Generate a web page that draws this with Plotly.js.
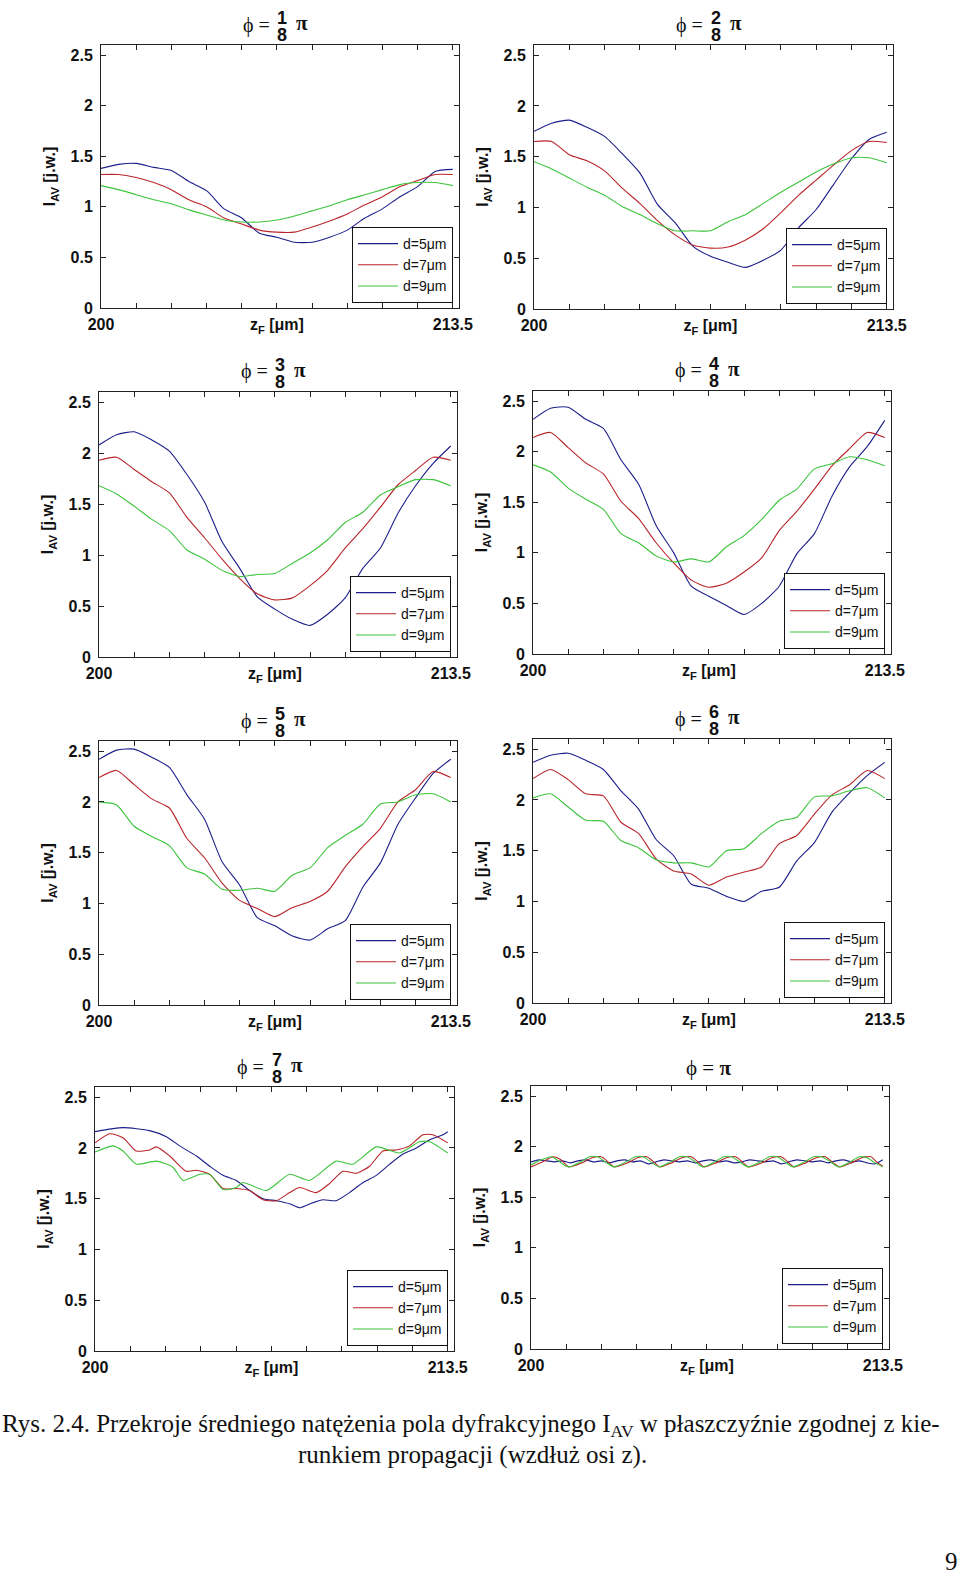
<!DOCTYPE html>
<html>
<head>
<meta charset="utf-8">
<script src="https://cdn.plot.ly/plotly-3.0.1.min.js"></script>
<style>
  html, body { margin: 0; padding: 0; background: #ffffff; }
  #chart { width: 960px; height: 1574px; }
</style>
</head>
<body>
<div id="chart"></div>
<script>
// ---------------- DATA ----------------
const seriesNames = ['d=5\u03bcm', 'd=7\u03bcm', 'd=9\u03bcm'];
const phaseNumerators = ['1', '2', '3', '4', '5', '6', '7', null];
const phaseDenominator = '8';
const xTickVals = [200, 206.75, 213.5];
const xTickText = ['<b>200</b>', '<b>z<sub>F</sub> [\u03bcm]</b>', '<b>213.5</b>'];
const xMinorVals = [201.35, 202.7, 204.05, 205.4, 208.1, 209.45, 210.8, 212.15];
const yTickVals = [0, 0.5, 1, 1.5, 2, 2.5];
const yTickText = ['<b>0</b>', '<b>0.5</b>', '<b>1</b>', '<b>1.5</b>', '<b>2</b>', '<b>2.5</b>'];

// common z grid (μm) for panels 1-6
const zGrid = [200, 200.675, 201.35, 202.025, 202.7, 203.375, 204.05, 204.725, 205.4, 206.075, 206.75,
               207.425, 208.1, 208.775, 209.45, 210.125, 210.8, 211.475, 212.15, 212.825, 213.5];

// phi = 1/8 pi
const p1_d5 = [1.38,1.42,1.43,1.39,1.36,1.25,1.16,0.98,0.89,0.74,0.70,0.65,0.65,0.70,0.77,0.89,0.98,1.10,1.20,1.35,1.37];
const p1_d7 = [1.32,1.32,1.29,1.24,1.17,1.07,1.00,0.89,0.83,0.77,0.75,0.75,0.80,0.86,0.93,1.02,1.10,1.20,1.26,1.32,1.32];
const p1_d9 = [1.21,1.17,1.12,1.07,1.03,0.97,0.92,0.87,0.85,0.85,0.87,0.91,0.96,1.01,1.07,1.12,1.17,1.22,1.24,1.24,1.21];
// phi = 2/8 pi
const p2_d5 = [1.75,1.83,1.86,1.79,1.70,1.53,1.34,1.03,0.85,0.62,0.52,0.46,0.41,0.48,0.58,0.80,0.98,1.23,1.48,1.67,1.74];
const p2_d7 = [1.65,1.65,1.52,1.46,1.36,1.19,1.04,0.87,0.73,0.63,0.60,0.61,0.68,0.79,0.95,1.12,1.27,1.42,1.56,1.65,1.64];
const p2_d9 = [1.45,1.38,1.29,1.20,1.12,1.01,0.93,0.84,0.77,0.77,0.77,0.86,0.93,1.04,1.15,1.25,1.35,1.43,1.49,1.49,1.44];
// phi = 3/8 pi
const p3_d5 = [2.08,2.18,2.21,2.13,2.02,1.79,1.52,1.13,0.87,0.59,0.47,0.37,0.31,0.42,0.58,0.87,1.07,1.41,1.68,1.90,2.07];
const p3_d7 = [1.93,1.96,1.84,1.72,1.61,1.37,1.17,0.96,0.77,0.62,0.56,0.58,0.70,0.85,1.07,1.26,1.47,1.69,1.83,1.96,1.93];
const p3_d9 = [1.68,1.60,1.48,1.35,1.24,1.05,0.96,0.85,0.79,0.81,0.82,0.92,1.02,1.15,1.32,1.42,1.59,1.67,1.74,1.74,1.68];
// phi = 4/8 pi
const p4_d5 = [2.32,2.43,2.44,2.32,2.23,1.92,1.68,1.27,1.00,0.67,0.57,0.48,0.39,0.50,0.67,0.99,1.19,1.56,1.85,2.05,2.31];
const p4_d7 = [2.14,2.19,2.04,1.89,1.78,1.51,1.34,1.10,0.90,0.73,0.66,0.70,0.81,0.95,1.22,1.41,1.63,1.86,2.03,2.19,2.14];
const p4_d9 = [1.87,1.80,1.64,1.53,1.43,1.19,1.10,0.97,0.91,0.94,0.91,1.06,1.17,1.33,1.52,1.63,1.83,1.88,1.95,1.92,1.86];
// phi = 5/8 pi
const p5_d5 = [2.42,2.51,2.52,2.44,2.34,2.07,1.83,1.41,1.18,0.86,0.78,0.68,0.64,0.75,0.83,1.16,1.40,1.78,2.04,2.28,2.42];
const p5_d7 = [2.24,2.31,2.17,2.03,1.94,1.64,1.45,1.20,1.03,0.95,0.87,0.96,1.02,1.12,1.36,1.56,1.74,2.00,2.12,2.30,2.24];
const p5_d9 = [2.00,1.97,1.76,1.66,1.57,1.35,1.29,1.14,1.13,1.15,1.12,1.28,1.35,1.55,1.67,1.78,1.98,2.00,2.07,2.08,2.00];
// phi = 6/8 pi
const p6_d5 = [2.37,2.44,2.46,2.39,2.30,2.09,1.91,1.61,1.45,1.17,1.13,1.05,1.00,1.10,1.14,1.40,1.58,1.88,2.07,2.24,2.37];
const p6_d7 = [2.21,2.30,2.20,2.06,2.04,1.78,1.67,1.42,1.30,1.27,1.16,1.24,1.29,1.34,1.57,1.65,1.86,2.05,2.15,2.29,2.21];
const p6_d9 = [2.02,2.06,1.93,1.80,1.79,1.60,1.53,1.41,1.38,1.38,1.34,1.50,1.52,1.67,1.79,1.83,2.03,2.04,2.09,2.12,2.02];

// phi = 7/8 pi
const p7_z5 = [200,201.07,202.09,202.73,203.24,203.88,204.39,204.90,205.41,205.92,206.43,206.94,207.45,207.83,208.34,208.72,209.23,209.74,210.26,210.77,211.28,211.79,212.30,212.81,213.32,213.5];
const p7_d5 = [2.16,2.20,2.17,2.11,2.02,1.92,1.82,1.73,1.68,1.58,1.50,1.48,1.45,1.41,1.46,1.49,1.48,1.56,1.66,1.73,1.84,1.94,2.00,2.08,2.13,2.16];
const p7_z7 = [200,200.56,201.07,201.58,202.09,202.35,202.86,203.49,203.88,204.39,204.90,205.41,205.92,206.43,206.94,207.45,207.83,208.47,208.98,209.49,210.00,210.51,211.02,211.53,212.04,212.55,212.93,213.5];
const p7_d7 = [2.05,2.14,2.10,1.97,1.98,2.01,1.92,1.77,1.78,1.74,1.60,1.60,1.58,1.49,1.48,1.56,1.61,1.56,1.65,1.77,1.75,1.82,1.97,1.98,2.02,2.13,2.13,2.05];
const p7_z9 = [200,200.69,201.07,201.58,202.35,202.98,203.37,204.01,204.39,204.90,205.41,205.66,206.56,207.45,208.21,209.23,209.87,210.77,211.66,212.42,212.81,213.5];
const p7_d9 = [1.96,2.02,1.97,1.84,1.87,1.81,1.68,1.74,1.74,1.59,1.61,1.66,1.58,1.74,1.68,1.87,1.84,2.01,1.95,2.06,2.06,1.95];

// phi = pi
const p8_z5 = [200,200.3,200.6,200.9,201.2,201.5,201.8,202.1,202.4,202.7,203.0,203.3,203.6,203.9,204.2,204.5,204.8,205.1,205.4,205.7,206.0,206.3,206.6,206.9,207.2,207.5,207.8,208.1,208.4,208.7,209.0,209.3,209.6,209.9,210.2,210.5,210.8,211.1,211.4,211.7,212.0,212.3,212.6,212.9,213.2,213.5];
const p8_d5 = [1.85,1.87,1.86,1.85,1.86,1.84,1.86,1.87,1.85,1.86,1.84,1.86,1.87,1.85,1.86,1.83,1.85,1.87,1.86,1.85,1.86,1.84,1.86,1.87,1.85,1.86,1.84,1.85,1.87,1.86,1.85,1.86,1.83,1.85,1.87,1.86,1.85,1.86,1.84,1.86,1.87,1.85,1.86,1.84,1.83,1.87];
const p8_z7 = [200,200.45,200.85,201.15,201.45,201.95,202.35,202.7,203.0,203.2,203.7,204.1,204.45,204.75,204.95,205.4,205.8,206.15,206.45,206.65,207.1,207.5,207.85,208.15,208.35,208.85,209.25,209.6,209.9,210.1,210.55,210.95,211.3,211.6,211.85,212.3,212.7,213.05,213.3,213.5];
const p8_d7 = [1.80,1.85,1.90,1.87,1.80,1.84,1.89,1.90,1.84,1.80,1.84,1.89,1.90,1.84,1.80,1.84,1.89,1.90,1.84,1.80,1.84,1.89,1.90,1.84,1.80,1.84,1.89,1.90,1.84,1.80,1.84,1.89,1.90,1.84,1.80,1.84,1.89,1.90,1.84,1.81];
const p8_z9 = [200,200.4,200.8,201.1,201.44,201.9,202.25,202.55,202.85,203.18,203.65,204.0,204.3,204.6,204.92,205.35,205.7,206.0,206.3,206.6,207.05,207.4,207.7,208.0,208.33,208.8,209.15,209.45,209.75,210.06,210.5,210.85,211.15,211.5,211.8,212.25,212.6,212.9,213.2,213.5];
const p8_d9 = [1.82,1.87,1.90,1.85,1.80,1.85,1.90,1.90,1.85,1.80,1.85,1.90,1.90,1.85,1.80,1.85,1.90,1.90,1.85,1.80,1.85,1.90,1.90,1.85,1.80,1.85,1.90,1.90,1.85,1.80,1.85,1.90,1.90,1.85,1.80,1.85,1.90,1.89,1.84,1.80];

const panels = [
  [[zGrid, p1_d5], [zGrid, p1_d7], [zGrid, p1_d9]],
  [[zGrid, p2_d5], [zGrid, p2_d7], [zGrid, p2_d9]],
  [[zGrid, p3_d5], [zGrid, p3_d7], [zGrid, p3_d9]],
  [[zGrid, p4_d5], [zGrid, p4_d7], [zGrid, p4_d9]],
  [[zGrid, p5_d5], [zGrid, p5_d7], [zGrid, p5_d9]],
  [[zGrid, p6_d5], [zGrid, p6_d7], [zGrid, p6_d9]],
  [[p7_z5, p7_d5], [p7_z7, p7_d7], [p7_z9, p7_d9]],
  [[p8_z5, p8_d5], [p8_z7, p8_d7], [p8_z9, p8_d9]]
];

// ---------------- LAYOUT / STYLE ----------------
const W = 960, H = 1574;
// plot frames in page pixels: [left, top, right, bottom]
const frames = [
  [101, 45, 459, 308], [534, 45, 893, 309],
  [99, 392, 457, 657], [533, 391, 891, 654],
  [99, 741, 457, 1005], [533, 739, 891, 1003],
  [95, 1087, 454, 1351], [531, 1086, 889, 1349]
];
const colors = ['#1c1f8a', '#b8262a', '#3cc43c'];
const sans = 'Liberation Sans, Arial, sans-serif';
const serif = 'Liberation Serif, Times New Roman, serif';
const axisCol = '#222222';

const px = p => p / W;
const py = p => 1 - p / H;

const data = [];
const layout = {
  width: W, height: H,
  margin: {l: 0, r: 0, t: 0, b: 0},
  paper_bgcolor: '#ffffff', plot_bgcolor: '#ffffff',
  showlegend: true,
  annotations: [],
  font: {family: sans, color: '#111'}
};

frames.forEach((f, i) => {
  const n = i + 1;
  const xa = 'xaxis' + (n === 1 ? '' : n);
  const ya = 'yaxis' + (n === 1 ? '' : n);
  const lg = 'legend' + (n === 1 ? '' : n);
  const xr = 'x' + (n === 1 ? '' : n);
  const yr = 'y' + (n === 1 ? '' : n);

  layout[xa] = {
    domain: [px(f[0]), px(f[2])], anchor: yr,
    range: [200, 213.74],
    tickmode: 'array', tickvals: xTickVals, ticktext: xTickText,
    ticks: 'inside', ticklen: 5, tickwidth: 1, tickcolor: axisCol,
    minor: {tickmode: 'array', tickvals: xMinorVals, ticks: 'inside', ticklen: 5, tickwidth: 1, tickcolor: axisCol, showgrid: false},
    showline: true, linecolor: axisCol, linewidth: 1, mirror: 'ticks',
    showgrid: false, zeroline: false,
    tickfont: {family: sans, size: 16, color: '#111'},
    ticklabelstandoff: 2,
    tickangle: 0
  };
  layout[ya] = {
    domain: [py(f[3]), py(f[1])], anchor: xr,
    range: [0, 2.6],
    tickmode: 'array', tickvals: yTickVals, ticktext: yTickText,
    ticks: 'inside', ticklen: 5, tickwidth: 1, tickcolor: axisCol,
    showline: true, linecolor: axisCol, linewidth: 1, mirror: 'ticks',
    showgrid: false, zeroline: false,
    tickfont: {family: sans, size: 16, color: '#111'},
    ticklabelstandoff: 4,
    title: {text: '<b>I<sub>AV</sub> [j.w.]</b>', font: {family: sans, size: 16, color: '#111'}, standoff: 10}
  };
  layout[lg] = {
    x: px(f[2] - 6), y: py(f[3] - 5), xanchor: 'right', yanchor: 'bottom',
    xref: 'paper', yref: 'paper',
    bgcolor: '#ffffff', bordercolor: '#111', borderwidth: 1,
    font: {family: sans, size: 14, color: '#111'},
    tracegroupgap: 0, itemwidth: 40, traceorder: 'normal'
  };

  panels[i].forEach((s, k) => {
    data.push({
      type: 'scatter', mode: 'lines',
      x: s[0], y: s[1],
      name: seriesNames[k],
      xaxis: xr, yaxis: yr, legend: lg,
      line: {color: colors[k], width: 1.1, shape: 'spline', smoothing: 0.6},
      hoverinfo: 'skip'
    });
  });

  // panel title  phi = (num/8) pi
  const cx = (f[0] + f[2]) / 2, t = f[1];
  if (phaseNumerators[i] !== null) {
    layout.annotations.push(
      {xref: 'paper', yref: 'paper', x: px(cx - 24), y: py(t - 20), text: '\u03d5 =', showarrow: false,
       xanchor: 'center', yanchor: 'middle', font: {family: serif, size: 20, color: '#111'}},
      {xref: 'paper', yref: 'paper', x: px(cx + 2), y: py(t - 27), text: '<b>' + phaseNumerators[i] + '</b>', showarrow: false,
       xanchor: 'center', yanchor: 'middle', font: {family: sans, size: 18, color: '#111'}},
      {xref: 'paper', yref: 'paper', x: px(cx + 2), y: py(t - 10), text: '<b>' + phaseDenominator + '</b>', showarrow: false,
       xanchor: 'center', yanchor: 'middle', font: {family: sans, size: 18, color: '#111'}},
      {xref: 'paper', yref: 'paper', x: px(cx + 22), y: py(t - 22), text: '<b>\u03c0</b>', showarrow: false,
       xanchor: 'center', yanchor: 'middle', font: {family: serif, size: 21, color: '#111'}}
    );
  } else {
    layout.annotations.push(
      {xref: 'paper', yref: 'paper', x: px(cx - 2), y: py(t - 18), text: '\u03d5 = <b>\u03c0</b>', showarrow: false,
       xanchor: 'center', yanchor: 'middle', font: {family: serif, size: 21, color: '#111'}}
    );
  }
});

// caption and page number
layout.annotations.push(
  {xref: 'paper', yref: 'paper', x: px(0), y: py(1425), xanchor: 'left', yanchor: 'middle', showarrow: false,
   text: 'Rys. 2.4. Przekroje \u015bredniego nat\u0119\u017cenia pola dyfrakcyjnego I<sub>AV</sub> w p\u0142aszczy\u017anie zgodnej z kie-',
   font: {family: serif, size: 25, color: '#111'}},
  {xref: 'paper', yref: 'paper', x: px(472), y: py(1455), xanchor: 'center', yanchor: 'middle', showarrow: false,
   text: 'runkiem propagacji (wzd\u0142u\u017c osi z).',
   font: {family: serif, size: 25, color: '#111'}},
  {xref: 'paper', yref: 'paper', x: px(951), y: py(1561), xanchor: 'center', yanchor: 'middle', showarrow: false,
   text: '9', font: {family: serif, size: 25, color: '#111'}}
);

Plotly.newPlot('chart', data, layout, {displayModeBar: false, staticPlot: true});
</script>
</body>
</html>
